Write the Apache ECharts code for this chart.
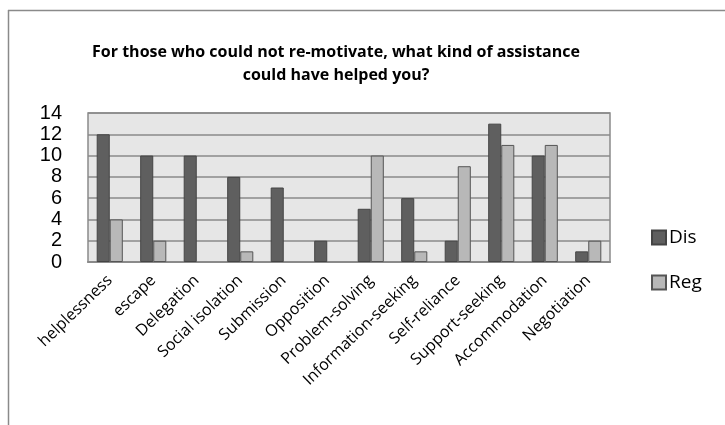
<!DOCTYPE html>
<html>
<head>
<meta charset="utf-8">
<script src="https://cdn.jsdelivr.net/npm/echarts@6/dist/echarts.min.js"></script>
<style>
  html, body { margin: 0; padding: 0; background: #fff; }
  #chart { width: 725px; height: 425px; }
</style>
</head>
<body>
<div id="chart"></div>
<script>
// categories and values
var categories = ['helplessness', 'escape', 'Delegation', 'Social isolation', 'Submission', 'Opposition',
  'Problem-solving', 'Information-seeking', 'Self-reliance', 'Support-seeking', 'Accommodation', 'Negotiation']
var disValues = [12, 10, 10, 8, 7, 2, 5, 6, 2, 13, 10, 1]
var regValues = [4, 2, 0, 1, 0, 0, 10, 1, 9, 11, 11, 2]
var yTicks = [0, 2, 4, 6, 8, 10, 12, 14]

// zero values draw no bar at all in the reference
function noZero(arr) {
  return arr.map(function (v) { return v === 0 ? '-' : v })
}

var chart = echarts.init(document.getElementById('chart'))
var option = {
  animation: false,
  backgroundColor: '#fff',
  title: {
    text: 'For those who could not re-motivate, what kind of assistance\ncould have helped you?',
    left: 331,
    top: 36,
    textAlign: 'center',
    textStyle: { fontFamily: 'Open Sans', fontWeight: 'bold', fontSize: 16, lineHeight: 23, color: '#000' }
  },
  legend: {
    orient: 'vertical',
    left: 646,
    top: 223,
    itemWidth: 14,
    itemHeight: 14,
    itemGap: 26,
    icon: 'rect',
    textStyle: { fontFamily: 'Open Sans', fontSize: 19, color: '#000', padding: [0, 0, 0, -2] },
    data: ['Dis', 'Reg']
  },
  grid: { left: 88, top: 113, width: 522, height: 149, show: true, backgroundColor: '#e6e6e6', borderColor: '#8a8a8a', borderWidth: 1.5 },
  xAxis: {
    type: 'category',
    data: categories,
    axisLine: { lineStyle: { color: '#8a8a8a', width: 2 } },
    axisTick: { show: false },
    axisLabel: { rotate: 44, interval: 0, fontFamily: 'Open Sans', fontSize: 16, color: '#000', margin: 16 }
  },
  yAxis: {
    type: 'value',
    min: 0,
    max: yTicks[yTicks.length - 1],
    interval: 2,
    axisLine: { show: false },
    axisTick: { show: false },
    splitLine: { lineStyle: { color: '#8a8a8a', width: 1.5 } },
    axisLabel: { fontFamily: 'Liberation Sans', fontSize: 20, color: '#000', margin: 26, lineHeight: 20 }
  },
  series: [
    {
      name: 'Dis', type: 'bar', data: noZero(disValues),
      barGap: '0%', barCategoryGap: '40%',
      itemStyle: { color: '#5f5f5f', borderColor: '#444', borderWidth: 1 }
    },
    {
      name: 'Reg', type: 'bar', data: noZero(regValues),
      itemStyle: { color: '#b8b8b8', borderColor: '#555', borderWidth: 1 }
    }
  ],
  graphic: [
    { type: 'line', shape: { x1: 8.5, y1: 10, x2: 8.5, y2: 425 }, style: { stroke: '#8a8a8a', lineWidth: 1.5 } },
    { type: 'line', shape: { x1: 8, y1: 10.5, x2: 725, y2: 10.5 }, style: { stroke: '#8a8a8a', lineWidth: 1.5 } }
  ]
}
chart.setOption(option)
</script>
</body>
</html>
